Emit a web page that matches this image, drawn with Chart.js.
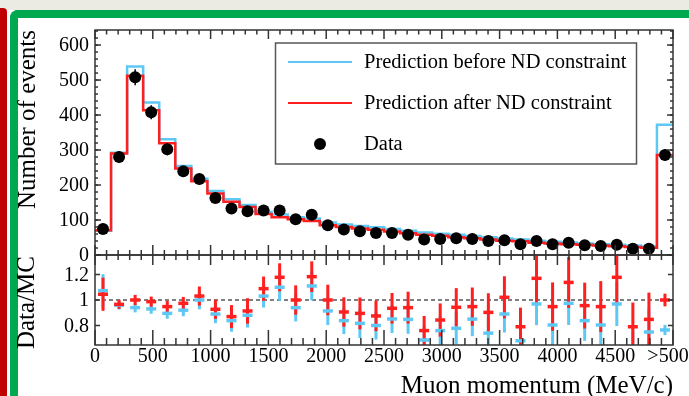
<!DOCTYPE html>
<html>
<head>
<meta charset="utf-8">
<script src="https://cdn.jsdelivr.net/npm/chart.js@4.4.1/dist/chart.umd.min.js"></script>
<style>
  html, body { margin: 0; padding: 0; }
  body { width: 689px; height: 396px; position: relative; overflow: hidden; background: #fff; }
  #topStrip { position: absolute; left: 0; top: 0; width: 689px; height: 10px; background: #ecebe3; }
  #redBar { position: absolute; left: 0; top: 8px; width: 7px; height: 400px; background: #c00000; border-top-right-radius: 4px; }
  #greenBox { position: absolute; left: 10px; top: 10px; width: 700px; height: 400px; box-sizing: border-box;
              border-top: 8px solid #00a94f; border-left: 8px solid #00a94f; border-top-left-radius: 8px; }
  canvas { position: absolute; left: 0; top: 0; }
</style>
</head>
<body>
<div id="topStrip"></div>
<div id="redBar"></div>
<div id="greenBox"></div>
<canvas id="upper" width="689" height="396"></canvas>
<canvas id="lower" width="689" height="396"></canvas>
<script>
// ---------------------------------------------------------------------------
// Data (36 momentum bins over 0-5000 MeV/c, last bin = overflow ">5000")
// ---------------------------------------------------------------------------
const NBINS = 36;
const X_MAX = 5000;

const predBefore = [69, 292, 539, 436, 331, 254, 218, 183, 159, 143, 123, 116, 108, 104, 93, 87, 83, 79,
                    74, 69, 64, 61, 58, 54, 51, 47, 44, 41, 38, 36, 33, 31, 29, 27, 24, 372];
const predAfter  = [71, 290, 512, 414, 319, 247, 211, 176, 152, 137, 117, 108, 102, 97, 85, 80, 76, 72,
                    67, 62, 58, 55, 51, 48, 44, 41, 39, 35, 33, 31, 29, 27, 25, 23, 21, 286];
const dataCounts = [74, 280, 508, 408, 302, 239, 217, 163, 133, 125, 127, 127, 102, 115, 85, 73, 68, 63,
                    63, 58, 44, 46, 48, 46, 40, 42, 31, 40, 31, 35, 28, 26, 29, 18, 18, 286];
const dataErr    = [9, 17, 23, 20, 17, 15, 15, 13, 12, 11, 11, 11, 10, 11, 9, 9, 8, 8,
                    8, 8, 7, 7, 7, 7, 6, 6, 6, 6, 6, 6, 5, 5, 5, 4, 4, 17];

const ratioAfter     = [1.045, 0.966, 1.0, 0.987, 0.948, 0.974, 1.031, 0.927, 0.87, 0.914, 1.089, 1.178,
                        1.0, 1.183, 1.0, 0.906, 0.895, 0.875, 0.935, 0.94, 0.76, 0.843, 0.943, 0.948,
                        0.903, 1.021, 0.79, 1.17, 0.948, 1.138, 0.956, 0.948, 1.178, 0.79, 0.848, 1.0];
const ratioAfterErr  = [0.13, 0.035, 0.04, 0.04, 0.045, 0.05, 0.075, 0.075, 0.09, 0.1, 0.095, 0.11,
                        0.115, 0.12, 0.12, 0.115, 0.125, 0.12, 0.12, 0.125, 0.115, 0.13, 0.15, 0.15,
                        0.15, 0.165, 0.15, 0.2, 0.19, 0.2, 0.18, 0.2, 0.21, 0.19, 0.21, 0.05];
const ratioBefore    = [1.073, 0.96, 0.94, 0.93, 0.895, 0.92, 1.0, 0.89, 0.838, 0.88, 1.031, 1.1,
                        0.94, 1.11, 0.914, 0.838, 0.817, 0.8, 0.851, 0.848, 0.686, 0.76, 0.778, 0.85,
                        0.74, 0.89, 0.68, 0.969, 0.804, 0.974, 0.838, 0.804, 0.969, 0.634, 0.749, 0.765];
const ratioBeforeErr = [0.13, 0.035, 0.037, 0.038, 0.042, 0.047, 0.073, 0.072, 0.087, 0.096, 0.09, 0.105,
                        0.108, 0.113, 0.11, 0.105, 0.115, 0.11, 0.11, 0.113, 0.103, 0.117, 0.124, 0.134,
                        0.123, 0.145, 0.13, 0.166, 0.161, 0.17, 0.158, 0.17, 0.173, 0.152, 0.185, 0.04];

const xTickValues = [0, 500, 1000, 1500, 2000, 2500, 3000, 3500, 4000, 4500, 5000];
const xTickLabels = ['0', '500', '1000', '1500', '2000', '2500', '3000', '3500', '4000', '4500', '>5000'];
const yTicksUpper = [0, 100, 200, 300, 400, 500, 600];
const yTicksRatio = [0.8, 1, 1.2];
const yLabelsRatio = ['0.8', '1', '1.2'];

const legendLabels = ['Prediction before ND constraint', 'Prediction after ND constraint', 'Data'];

// ---------------------------------------------------------------------------
// Helpers
// ---------------------------------------------------------------------------
const BLUE = '#5ec8f5';
const RED = '#ff1f1f';
const FRAME = '#333';
const FONT = '"Liberation Serif", "DejaVu Serif", serif';

const binW = X_MAX / NBINS;
const binCenters = [];
for (let i = 0; i < NBINS; i++) binCenters.push((i + 0.5) * binW);

function histPoints(vals) {
    const pts = vals.map((v, i) => ({ x: i * binW, y: v }));
    pts.push({ x: X_MAX, y: vals[vals.length - 1] });
    return pts;
}

function tickLine(ctx, x1, y1, x2, y2) {
    ctx.beginPath();
    ctx.moveTo(x1, y1);
    ctx.lineTo(x2, y2);
    ctx.stroke();
}

// x ticks along an edge; dir = +1 (pointing down) / -1 (pointing up)
function drawXTicks(ctx, xs, y, dir, majLen, minLen) {
    for (let v = 0; v <= X_MAX; v += 100) {
        const px = xs.getPixelForValue(v);
        const len = (v % 500 === 0) ? majLen : minLen;
        tickLine(ctx, px, y, px, y + dir * len);
    }
}

function drawYTicks(ctx, ys, area, values, len) {
    values.forEach(v => {
        const py = ys.getPixelForValue(v);
        tickLine(ctx, area.left, py, area.left + len, py);
        tickLine(ctx, area.right, py, area.right - len, py);
    });
}

function drawErrorBars(chart, values, errs, color, width) {
    const { ctx, chartArea: a, scales: { x, y } } = chart;
    ctx.save();
    ctx.beginPath();
    ctx.rect(a.left, a.top, a.right - a.left, a.bottom - a.top);
    ctx.clip();
    ctx.strokeStyle = color;
    ctx.lineWidth = width;
    values.forEach((v, i) => {
        const px = x.getPixelForValue(binCenters[i]);
        tickLine(ctx, px, y.getPixelForValue(v - errs[i]), px, y.getPixelForValue(v + errs[i]));
    });
    ctx.restore();
}

// ---------------------------------------------------------------------------
// Upper panel: event counts
// ---------------------------------------------------------------------------
const upperPlugin = {
    id: 'upperDecor',
    afterDatasetsDraw(chart) {
        drawErrorBars(chart, dataCounts, dataErr, '#000', 1.5);
    },
    afterDraw(chart) {
        const { ctx, chartArea: a, scales: { x, y } } = chart;
        ctx.save();
        ctx.strokeStyle = FRAME;
        ctx.lineWidth = 1.5;
        ctx.strokeRect(a.left, a.top, a.right - a.left, a.bottom - a.top);
        drawXTicks(ctx, x, a.top, 1, 9, 4.5);
        drawXTicks(ctx, x, a.bottom, -1, 10, 5);
        const minor = [];
        for (let v = 0; v <= 640; v += 20) minor.push(v);
        drawYTicks(ctx, y, a, minor, 3);
        drawYTicks(ctx, y, a, yTicksUpper, 6);

        ctx.fillStyle = '#000';
        ctx.font = '20px ' + FONT;
        ctx.textAlign = 'right';
        ctx.textBaseline = 'middle';
        yTicksUpper.forEach(v => ctx.fillText(String(v), a.left - 6, y.getPixelForValue(v) + 1));

        // y title
        ctx.save();
        ctx.translate(28, a.top);
        ctx.rotate(-Math.PI / 2);
        ctx.font = '25px ' + FONT;
        ctx.textAlign = 'right';
        ctx.fillText('Number of events', 0, 0);
        ctx.restore();

        // legend
        ctx.fillStyle = '#fff';
        ctx.fillRect(275.5, 43, 361, 121);
        ctx.strokeStyle = '#555';
        ctx.lineWidth = 1.5;
        ctx.strokeRect(275.5, 43, 361, 121);
        const rows = [62, 103, 144];
        ctx.lineWidth = 2;
        ctx.strokeStyle = BLUE;
        tickLine(ctx, 288, rows[0], 352, rows[0]);
        ctx.strokeStyle = RED;
        tickLine(ctx, 288, rows[1], 352, rows[1]);
        ctx.fillStyle = '#000';
        ctx.beginPath();
        ctx.arc(320, rows[2], 6, 0, Math.PI * 2);
        ctx.fill();
        ctx.font = '20.5px ' + FONT;
        ctx.textAlign = 'left';
        legendLabels.forEach((t, i) => ctx.fillText(t, 364, rows[i] + 1));
        ctx.restore();
    }
};

new Chart(document.getElementById('upper'), {
    type: 'line',
    data: {
        datasets: [
            {
                label: 'Data',
                data: dataCounts.map((v, i) => ({ x: binCenters[i], y: v })),
                showLine: false,
                pointRadius: 6,
                pointBackgroundColor: '#000',
                pointBorderWidth: 0,
                order: 0
            },
            {
                label: 'Prediction after ND constraint',
                data: histPoints(predAfter),
                stepped: true,
                borderColor: RED,
                borderWidth: 2.5,
                pointRadius: 0,
                fill: false,
                order: 1
            },
            {
                label: 'Prediction before ND constraint',
                data: histPoints(predBefore),
                stepped: true,
                borderColor: BLUE,
                borderWidth: 2.5,
                pointRadius: 0,
                fill: false,
                order: 2
            }
        ]
    },
    options: {
        responsive: false,
        animation: false,
        layout: { padding: { left: 95, right: 16, top: 30, bottom: 141 } },
        plugins: { legend: { display: false }, tooltip: { enabled: false } },
        scales: {
            x: { type: 'linear', min: 0, max: X_MAX, display: false },
            y: { type: 'linear', min: 0, max: 643, display: false }
        }
    },
    plugins: [upperPlugin]
});

// ---------------------------------------------------------------------------
// Lower panel: Data/MC ratio
// ---------------------------------------------------------------------------
const lowerPlugin = {
    id: 'lowerDecor',
    beforeDatasetsDraw(chart) {
        const { ctx, chartArea: a, scales: { y } } = chart;
        ctx.save();
        ctx.strokeStyle = '#555';
        ctx.lineWidth = 1.3;
        ctx.setLineDash([4, 3]);
        const py = y.getPixelForValue(1);
        tickLine(ctx, a.left, py, a.right, py);
        ctx.restore();
        drawErrorBars(chart, ratioBefore, ratioBeforeErr, BLUE, 3);
        drawErrorBars(chart, ratioAfter, ratioAfterErr, RED, 3);
    },
    afterDraw(chart) {
        const { ctx, chartArea: a, scales: { x, y } } = chart;
        ctx.save();
        ctx.strokeStyle = FRAME;
        ctx.lineWidth = 1.5;
        ctx.strokeRect(a.left, a.top, a.right - a.left, a.bottom - a.top);
        drawXTicks(ctx, x, a.top, 1, 10, 5);
        drawXTicks(ctx, x, a.bottom, -1, 15, 7);
        drawYTicks(ctx, y, a, yTicksRatio, 5);

        ctx.fillStyle = '#000';
        ctx.font = '20px ' + FONT;
        ctx.textAlign = 'right';
        ctx.textBaseline = 'middle';
        yTicksRatio.forEach((v, i) => ctx.fillText(yLabelsRatio[i], a.left - 6, y.getPixelForValue(v) + 1));

        ctx.textAlign = 'center';
        xTickValues.forEach((v, i) => ctx.fillText(xTickLabels[i], x.getPixelForValue(v), a.bottom + 12));

        ctx.font = '25px ' + FONT;
        ctx.textAlign = 'right';
        ctx.fillText('Muon momentum (MeV/c)', a.right, 386);

        ctx.save();
        ctx.translate(27, a.top + 1);
        ctx.rotate(-Math.PI / 2);
        ctx.fillText('Data/MC', 0, 0);
        ctx.restore();
        ctx.restore();
    }
};

new Chart(document.getElementById('lower'), {
    type: 'line',
    data: {
        datasets: [
            {
                label: 'Data / after',
                data: ratioAfter.map((v, i) => ({ x: binCenters[i], y: v })),
                showLine: false,
                pointStyle: 'line',
                pointRadius: 5,
                pointBorderWidth: 3.5,
                pointBorderColor: RED,
                order: 0
            },
            {
                label: 'Data / before',
                data: ratioBefore.map((v, i) => ({ x: binCenters[i], y: v })),
                showLine: false,
                pointStyle: 'line',
                pointRadius: 5,
                pointBorderWidth: 3.5,
                pointBorderColor: BLUE,
                order: 1
            }
        ]
    },
    options: {
        responsive: false,
        animation: false,
        layout: { padding: { left: 95, right: 16, top: 255, bottom: 51 } },
        plugins: { legend: { display: false }, tooltip: { enabled: false } },
        scales: {
            x: { type: 'linear', min: 0, max: X_MAX, display: false },
            y: { type: 'linear', min: 0.647, max: 1.353, display: false }
        }
    },
    plugins: [lowerPlugin]
});
</script>
</body>
</html>
